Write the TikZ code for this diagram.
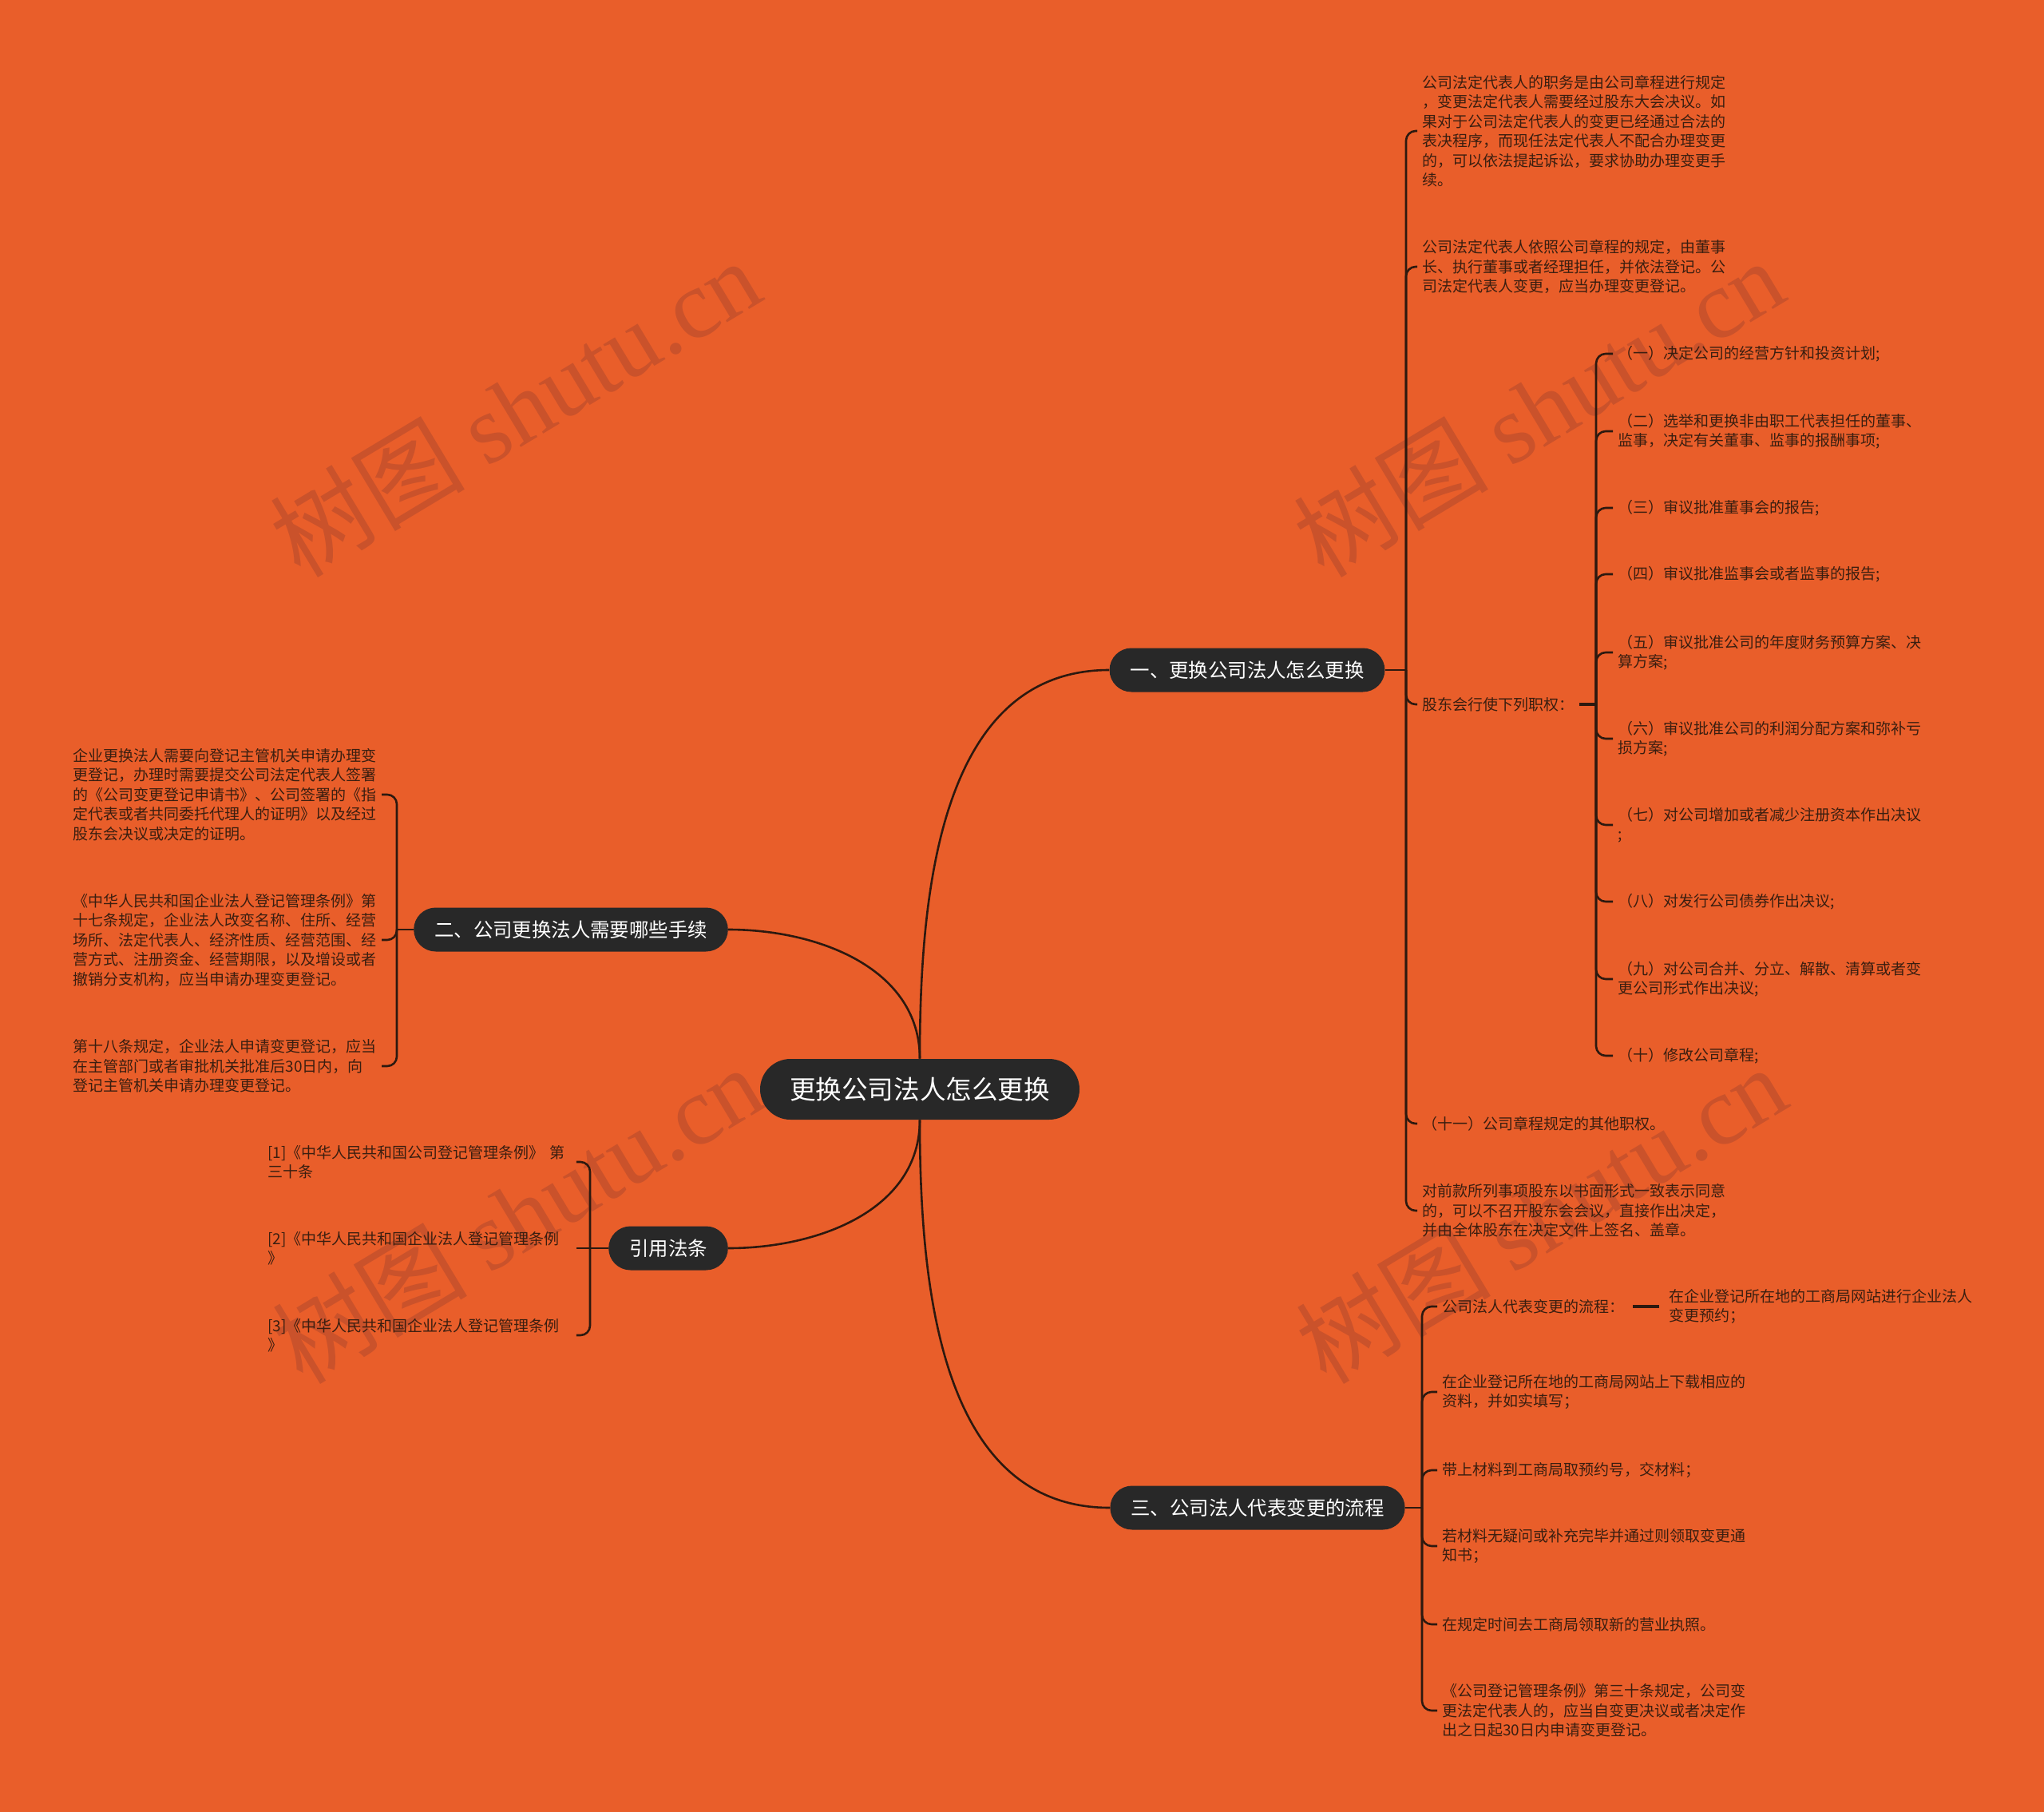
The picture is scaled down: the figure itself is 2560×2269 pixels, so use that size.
\documentclass[tikz,border=0pt]{standalone}
\usepackage{fontspec}
\setmainfont{Noto Sans CJK SC}
\newfontfamily\wmfont{Liberation Serif}
\usepackage{xcolor}
\usetikzlibrary{positioning,calc,backgrounds}

\definecolor{bgorange}{RGB}{233,94,42}
\definecolor{nodedark}{RGB}{40,40,40}
\definecolor{linebrown}{RGB}{45,25,15}
\definecolor{textbrown}{RGB}{58,30,16}
\definecolor{wmorange}{RGB}{202,82,43}

\begin{document}
\begin{tikzpicture}[
    x=0.5pt, y=-0.5pt,
    root/.style={
        rectangle, fill=nodedark, text=white,
        rounded corners=19pt, minimum height=38pt, minimum width=200pt,
        font=\fontsize{16.3pt}{20pt}\selectfont, inner xsep=18.5pt
    },
    topic/.style={
        rectangle, fill=nodedark, text=white,
        rounded corners=13.75pt, minimum height=27.5pt,
        font=\fontsize{12.2pt}{15pt}\selectfont, inner xsep=13pt
    },
    leaf/.style={
        align=left, text=textbrown, inner xsep=3pt, inner ysep=2pt,
        font=\fontsize{9.5pt}{12.25pt}\selectfont
    },
    wide/.style={leaf, text width=190pt},
    link/.style={draw=linebrown, line width=1.3pt},
    brace/.style={link, rounded corners=6pt},
    wmark/.style={text=wmorange, rotate=31, font=\fontsize{61pt}{66pt}\selectfont}
]
    \useasboundingbox (0,0) rectangle (2560,2269);

    % Central topic
    \node [root] (root) at (1152,1364) {更换公司法人怎么更换};

    % Main branches
    \node [topic] (b1) at (1562,839) {一、更换公司法人怎么更换};
    \node [topic] (b2) at (715,1164) {二、公司更换法人需要哪些手续};
    \node [topic] (b4) at (837,1563) {引用法条};
    \node [topic] (b3) at (1575,1888) {三、公司法人代表变更的流程};

    % Branch one
    \coordinate (j1) at (1761,839);
    \node [leaf, anchor=west] (c11) at (1775,164) {公司法定代表人的职务是由公司章程进行规定\\，变更法定代表人需要经过股东大会决议。如\\果对于公司法定代表人的变更已经通过合法的\\表决程序，而现任法定代表人不配合办理变更\\的，可以依法提起诉讼，要求协助办理变更手\\续。};
    \node [leaf, anchor=west] (c12) at (1775,334) {公司法定代表人依照公司章程的规定，由董事\\长、执行董事或者经理担任，并依法登记。公\\司法定代表人变更，应当办理变更登记。};
    \node [leaf, anchor=west] (c13) at (1775,882) {股东会行使下列职权：};
    \node [leaf, anchor=west] (c14) at (1775,1407) {（十一）公司章程规定的其他职权。};
    \node [leaf, anchor=west] (c15) at (1775,1516) {对前款所列事项股东以书面形式一致表示同意\\的，可以不召开股东会会议，直接作出决定，\\并由全体股东在决定文件上签名、盖章。};

    % Powers of the shareholders meeting
    \coordinate (j13) at (1999,882);
    \node [leaf, anchor=west] (p1) at (2020,443) {（一）决定公司的经营方针和投资计划;};
    \node [leaf, anchor=west] (p2) at (2020,540) {（二）选举和更换非由职工代表担任的董事、\\监事，决定有关董事、监事的报酬事项;};
    \node [leaf, anchor=west] (p3) at (2020,636) {（三）审议批准董事会的报告;};
    \node [leaf, anchor=west] (p4) at (2020,719) {（四）审议批准监事会或者监事的报告;};
    \node [leaf, anchor=west] (p5) at (2020,817) {（五）审议批准公司的年度财务预算方案、决\\算方案;};
    \node [leaf, anchor=west] (p6) at (2020,925) {（六）审议批准公司的利润分配方案和弥补亏\\损方案;};
    \node [leaf, anchor=west] (p7) at (2020,1033) {（七）对公司增加或者减少注册资本作出决议\\;};
    \node [leaf, anchor=west] (p8) at (2020,1129) {（八）对发行公司债券作出决议;};
    \node [leaf, anchor=west] (p9) at (2020,1226) {（九）对公司合并、分立、解散、清算或者变\\更公司形式作出决议;};
    \node [leaf, anchor=west] (p10) at (2020,1322) {（十）修改公司章程;};

    % Branch two
    \coordinate (j2) at (497,1164);
    \node [wide, anchor=east] (cA) at (478,995) {企业更换法人需要向登记主管机关申请办理变\\更登记，办理时需要提交公司法定代表人签署\\的《公司变更登记申请书》、公司签署的《指\\定代表或者共同委托代理人的证明》以及经过\\股东会决议或决定的证明。};
    \node [wide, anchor=east] (cB) at (478,1177) {《中华人民共和国企业法人登记管理条例》第\\十七条规定，企业法人改变名称、住所、经营\\场所、法定代表人、经济性质、经营范围、经\\营方式、注册资金、经营期限，以及增设或者\\撤销分支机构，应当申请办理变更登记。};
    \node [wide, anchor=east] (cC) at (478,1335) {第十八条规定，企业法人申请变更登记，应当\\在主管部门或者审批机关批准后30日内，向\\登记主管机关申请办理变更登记。};

    % Cited laws
    \coordinate (j4) at (739,1563);
    \node [wide, anchor=west] (r1) at (329,1455) {[1]《中华人民共和国公司登记管理条例》 第\\三十条};
    \node [wide, anchor=west] (r2) at (329,1563) {[2]《中华人民共和国企业法人登记管理条例\\》};
    \node [wide, anchor=west] (r3) at (329,1672) {[3]《中华人民共和国企业法人登记管理条例\\》};

    % Branch three
    \coordinate (j3) at (1781,1888);
    \node [leaf, anchor=west] (c31) at (1800,1636) {公司法人代表变更的流程：};
    \node [leaf, anchor=west] (c311) at (2084,1636) {在企业登记所在地的工商局网站进行企业法人\\变更预约；};
    \node [leaf, anchor=west] (c32) at (1800,1743) {在企业登记所在地的工商局网站上下载相应的\\资料，并如实填写；};
    \node [leaf, anchor=west] (c33) at (1800,1841) {带上材料到工商局取预约号，交材料；};
    \node [leaf, anchor=west] (c34) at (1800,1936) {若材料无疑问或补充完毕并通过则领取变更通\\知书；};
    \node [leaf, anchor=west] (c35) at (1800,2034) {在规定时间去工商局领取新的营业执照。};
    \node [leaf, anchor=west] (c36) at (1800,2142) {《公司登记管理条例》第三十条规定，公司变\\更法定代表人的，应当自变更决议或者决定作\\出之日起30日内申请变更登记。};

    % Curves from the centre
    \draw [link] (root.north) to[out=90, in=180] (b1.west);
    \draw [link] (root.north) to[out=90, in=0] (b2.east);
    \draw [link] (root.south) to[out=-90, in=0] (b4.east);
    \draw [link] (root.south) to[out=-90, in=180] (b3.west);

    % Brackets
    \draw [link] (b1.east) -- (j1);
    \draw [brace] (j1) |- (c11.west);
    \draw [brace] (j1) |- (c12.west);
    \draw [brace] (j1) |- (c13.west);
    \draw [brace] (j1) |- (c14.west);
    \draw [brace] (j1) |- (c15.west);

    \draw [link, line width=1.8pt] (c13.east) -- (j13);
    \draw [brace] (j13) |- (p1.west);
    \draw [brace] (j13) |- (p2.west);
    \draw [brace] (j13) |- (p3.west);
    \draw [brace] (j13) |- (p4.west);
    \draw [brace] (j13) |- (p5.west);
    \draw [brace] (j13) |- (p6.west);
    \draw [brace] (j13) |- (p7.west);
    \draw [brace] (j13) |- (p8.west);
    \draw [brace] (j13) |- (p9.west);
    \draw [brace] (j13) |- (p10.west);

    \draw [link] (b2.west) -- (j2);
    \draw [brace] (j2) |- (cA.east);
    \draw [brace] (j2) |- (cB.east);
    \draw [brace] (j2) |- (cC.east);

    \draw [link] (b4.west) -- (r2.east);
    \draw [brace] (j4) |- (r1.east);
    \draw [brace] (j4) |- (r3.east);

    \draw [link] (b3.east) -- (j3);
    \draw [brace] (j3) |- (c31.west);
    \draw [brace] (j3) |- (c32.west);
    \draw [brace] (j3) |- (c33.west);
    \draw [brace] (j3) |- (c34.west);
    \draw [brace] (j3) |- (c35.west);
    \draw [brace] (j3) |- (c36.west);
    \draw [link, line width=1.8pt, shorten <=2pt, shorten >=3pt] (c31.east) -- (c311.west);

    % Background and watermarks
    \begin{scope}[on background layer]
        \fill [bgorange] (0,0) rectangle (2560,2269);
        \node [wmark] (wm1) at (645,510) {树图 {\wmfont shutu.cn}};
        \node [wmark] (wm2) at (1927,510) {树图 {\wmfont shutu.cn}};
        \node [wmark] (wm3) at (648,1520) {树图 {\wmfont shutu.cn}};
        \node [wmark] (wm4) at (1930,1520) {树图 {\wmfont shutu.cn}};
    \end{scope}

\end{tikzpicture}
\end{document}
